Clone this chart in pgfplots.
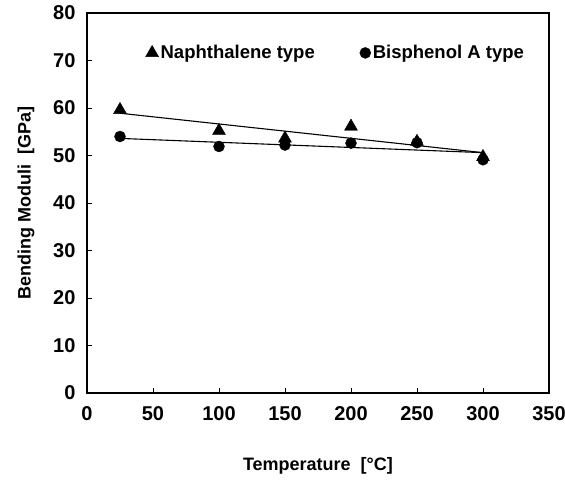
\documentclass[border=0pt]{standalone}
\usepackage{pgfplots}
\pgfplotsset{compat=1.18}
\usepackage{fontspec}
\setmainfont{Liberation Sans}
\newcommand{\ff}{\fontsize{20bp}{24bp}\selectfont\bfseries}
\newcommand{\fl}{\fontsize{18bp}{22bp}\selectfont\bfseries}
\newcommand{\fg}{\fontsize{18.5bp}{22bp}\selectfont\bfseries}
\begin{document}
\begin{tikzpicture}
\begin{axis}[
  scale only axis, width=462bp, height=380bp,
  xmin=0, xmax=350, ymin=0, ymax=80,
  xtick={0,50,...,350}, ytick={0,10,...,80},
  tick align=inside, xtick pos=bottom, ytick pos=left,
  major tick length=5bp,
  /pgf/number format/assume math mode=true,
  tick label style={font=\ff},
  label style={font=\fl},
  xlabel={Temperature\ \ [°C]},
  ylabel={Bending Moduli\ \ [GPa]},
  xlabel style={yshift=-30bp},
  ylabel style={yshift=12bp},
  xticklabel style={yshift=-10bp},
  yticklabel style={xshift=-8bp},
  axis line style={line width=1.2bp},
  tick style={line width=0.8bp, black},
  legend style={draw=none, fill=none, font=\fg, at={(0.12,0.895)}, anchor=west,
    /tikz/every even column/.append style={column sep=43bp}},
  legend columns=2,
  legend cell align=left,
]
\addplot[only marks, mark=triangle*, mark size=7.5bp, black] coordinates {
  (25,59.6) (100,55.2) (150,53.6) (200,56.1) (250,52.9) (300,49.7)};
\addlegendentry{Naphthalene type}
\addplot[only marks, mark=*, mark size=5.5bp, black] coordinates {
  (25,54.0) (100,51.9) (150,52.2) (200,52.6) (250,52.7) (300,49.1)};
\addlegendentry{Bisphenol A type}
\addplot[black, line width=1.1bp, forget plot] coordinates {(25,58.9) (300,50.6)};
\addplot[black, line width=1.1bp, forget plot] coordinates {(25,53.6) (300,50.6)};
\end{axis}
\pgfresetboundingbox
\path ([shift={(-87bp,-87bp)}]current axis.south west) rectangle ([shift={(16bp,13bp)}]current axis.north east);
\end{tikzpicture}
\end{document}
